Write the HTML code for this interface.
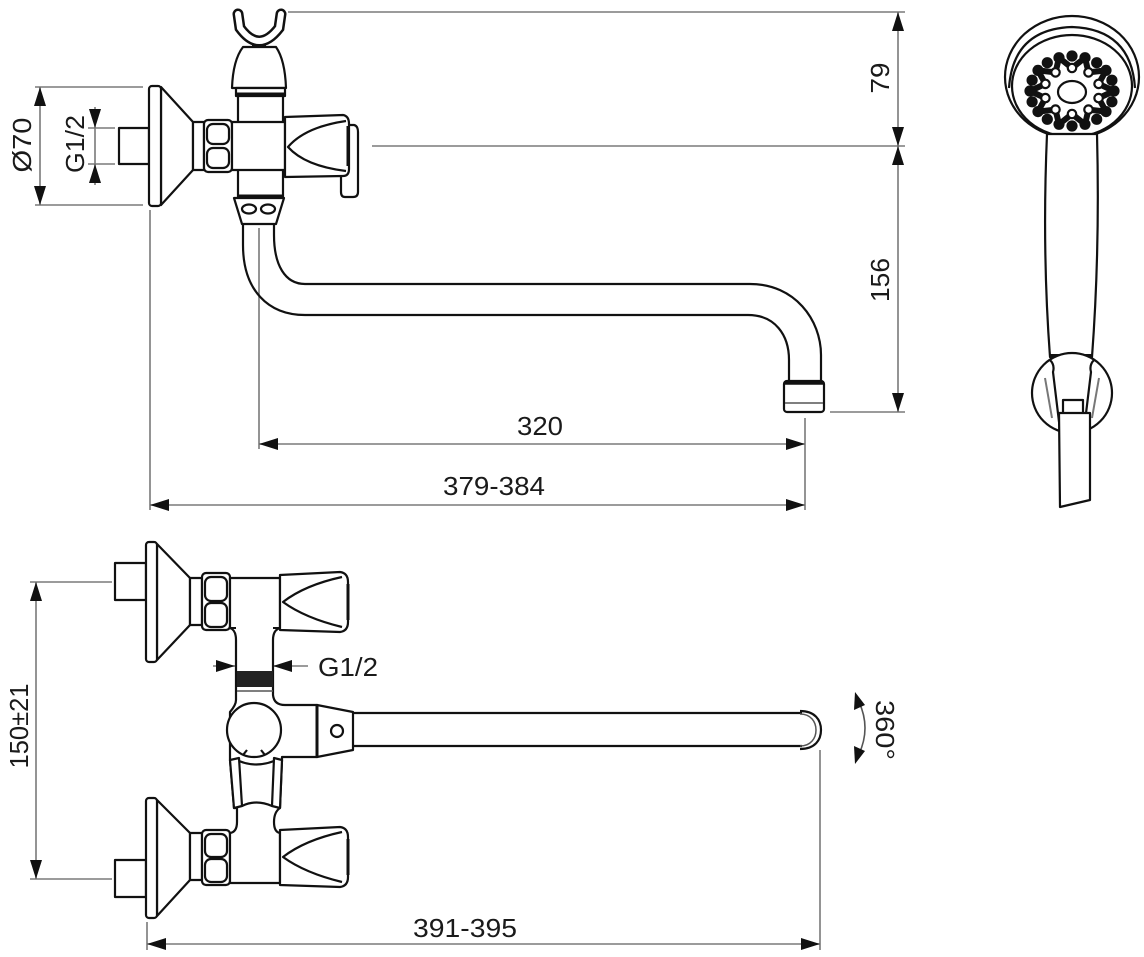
<!DOCTYPE html>
<html><head><meta charset="utf-8"><style>
html,body{margin:0;padding:0;background:#fff;}
svg{display:block;}
.d{stroke:#7a7a7a;stroke-width:1.6;fill:none;}
.o{stroke:#111;stroke-width:2.2;fill:#fff;stroke-linejoin:round;}
.n{stroke:#111;stroke-width:2.2;fill:none;stroke-linejoin:round;}
.a{fill:#111;stroke:none;}
.t{font-family:"Liberation Sans",Arial,sans-serif;font-size:26px;fill:#1a1a1a;}
</style></head><body>
<svg width="1144" height="957" viewBox="0 0 1144 957" xmlns="http://www.w3.org/2000/svg">

<!-- ================= TOP VIEW DIMENSIONS ================= -->
<line class="d" x1="288" y1="12" x2="905" y2="12"/>
<line class="d" x1="372" y1="146" x2="905" y2="146"/>
<line class="d" x1="830" y1="412" x2="905" y2="412"/>
<line class="d" x1="898" y1="12" x2="898" y2="412"/>
<polygon class="a" points="898,12 892,31 904,31"/>
<polygon class="a" points="898,146 892,127 904,127"/>
<polygon class="a" points="898,146 892,165 904,165"/>
<polygon class="a" points="898,412 892,393 904,393"/>
<text class="t" transform="translate(889,78) rotate(-90)" text-anchor="middle" textLength="31" lengthAdjust="spacingAndGlyphs">79</text>
<text class="t" transform="translate(889,280) rotate(-90)" text-anchor="middle" textLength="44" lengthAdjust="spacingAndGlyphs">156</text>

<!-- Ø70 -->
<line class="d" x1="35" y1="87" x2="143" y2="87"/>
<line class="d" x1="35" y1="205" x2="143" y2="205"/>
<line class="d" x1="40" y1="87" x2="40" y2="205"/>
<polygon class="a" points="40,87 34,106 46,106"/>
<polygon class="a" points="40,205 34,186 46,186"/>
<text class="t" transform="translate(31,145) rotate(-90)" text-anchor="middle" textLength="55" lengthAdjust="spacingAndGlyphs">Ø70</text>
<!-- G1/2 top -->
<line class="d" x1="88" y1="128" x2="115" y2="128"/>
<line class="d" x1="88" y1="164" x2="115" y2="164"/>
<line class="d" x1="95" y1="107" x2="95" y2="185"/>
<polygon class="a" points="95,128 89,109 101,109"/>
<polygon class="a" points="95,164 89,183 101,183"/>
<text class="t" transform="translate(84,144) rotate(-90)" text-anchor="middle" textLength="58" lengthAdjust="spacingAndGlyphs">G1/2</text>

<!-- horizontal dims -->
<line class="d" x1="150" y1="210" x2="150" y2="510"/>
<line class="d" x1="259" y1="228" x2="259" y2="449"/>
<line class="d" x1="805" y1="418" x2="805" y2="510"/>
<line class="d" x1="259" y1="444" x2="805" y2="444"/>
<polygon class="a" points="259,444 278,438 278,450"/>
<polygon class="a" points="805,444 786,438 786,450"/>
<text class="t" x="540" y="435" text-anchor="middle" textLength="46" lengthAdjust="spacingAndGlyphs">320</text>
<line class="d" x1="150" y1="505" x2="805" y2="505"/>
<polygon class="a" points="150,505 169,499 169,511"/>
<polygon class="a" points="805,505 786,499 786,511"/>
<text class="t" x="494" y="495" text-anchor="middle" textLength="102" lengthAdjust="spacingAndGlyphs">379-384</text>

<!-- ================= TOP VIEW FAUCET ================= -->
<rect class="o" x="119" y="128" width="30" height="36"/>
<path class="o" d="M161,87 L193,122 L193,170 L161,205 Z"/>
<rect class="o" x="149" y="86" width="12" height="120" rx="3"/>
<rect class="o" x="193" y="122" width="11" height="48"/>
<rect class="o" x="204" y="120" width="28" height="52" rx="4"/>
<rect class="n" x="207" y="124" width="22" height="20" rx="6"/>
<rect class="n" x="207" y="148" width="22" height="20" rx="6"/>
<rect class="o" x="238" y="94" width="45" height="104"/>
<path class="o" d="M243,47 Q233,60 232,88 L286,88 Q285,60 276,47 Z"/>
<rect class="o" x="236" y="88" width="49" height="8"/>
<line x1="237" y1="94" x2="284" y2="94" stroke="#111" stroke-width="3"/>
<path d="M238,14 L240,28 Q259,54 279,28 L281,14" stroke="#111" stroke-width="11" fill="none" stroke-linecap="round"/>
<path d="M238,14 L240,28 Q259,54 279,28 L281,14" stroke="#fff" stroke-width="6" fill="none" stroke-linecap="round"/>
<line x1="252" y1="45" x2="266" y2="45" stroke="#111" stroke-width="2"/>
<rect class="o" x="232" y="122" width="53" height="48"/>
<path class="o" d="M340,125 L354,125 Q358,126 358,132 L358,192 Q358,197 353,197 L345,197 Q341,197 341,192 L341,176 Z"/>
<path class="o" d="M285,117 L343,115 Q349,116 349,124 L349,169 Q349,176 343,176 L285,177 Z"/>
<path class="n" d="M346,121 Q305,127 288,147 Q305,166 346,171"/>
<line x1="348" y1="126" x2="348" y2="166" stroke="#111" stroke-width="3"/>
<line x1="237" y1="196" x2="284" y2="196" stroke="#111" stroke-width="3"/>
<path class="o" d="M234,198 L284,198 L276,224 L242,224 Z"/>
<ellipse class="n" cx="249" cy="209" rx="7" ry="4.5"/>
<ellipse class="n" cx="268" cy="209" rx="7" ry="4.5"/>
<path class="n" d="M243,224 L243,245 C243,290 268,315 305,315 L748,315 C775,315 789,335 789,360 L789,381"/>
<path class="n" d="M274,224 L274,235 C274,265 285,284 305,284 L750,284 C795,284 821,320 821,355 L821,381"/>
<rect class="o" x="784" y="381" width="40" height="31" rx="3"/>
<line x1="784" y1="383" x2="824" y2="383" stroke="#111" stroke-width="3.5"/>
<line x1="785" y1="403" x2="823" y2="403" stroke="#555" stroke-width="1.5"/>

<!-- ================= SHOWER ================= -->
<ellipse class="o" cx="1072" cy="77" rx="67" ry="61"/>
<path class="n" d="M1009,88 Q1013,29 1072,27 Q1131,29 1135,88"/>
<ellipse class="o" cx="1072" cy="86" rx="60" ry="51"/>
<path class="o" d="M1047,134 Q1042,250 1050,357 L1092,357 Q1100,250 1097,134 Z"/>
<rect x="1050" y="354" width="42" height="6" fill="#111"/>
<circle class="o" cx="1072" cy="393" r="40"/>
<path class="n" d="M1050,360 Q1055,365 1053,372 L1060,430"/>
<path class="n" d="M1094,360 Q1089,365 1091,372 L1084,430"/>
<line x1="1045" y1="378" x2="1052" y2="418" stroke="#777" stroke-width="2"/>
<line x1="1099" y1="378" x2="1092" y2="418" stroke="#777" stroke-width="2"/>
<rect class="o" x="1063" y="400" width="20" height="14"/>
<path class="o" d="M1059,413 L1090,413 L1090,500 L1060,507 Z"/>
<!-- nozzle pattern -->
<g stroke="#111" stroke-width="6" stroke-linecap="round">
<line x1="1098.6" y1="98.1" x2="1114" y2="91"/><line x1="1098.6" y1="98.1" x2="1106" y2="111.6"/>
<line x1="1088.5" y1="109.6" x2="1106" y2="111.6"/><line x1="1088.5" y1="109.6" x2="1085" y2="124.3"/>
<line x1="1072" y1="114" x2="1085" y2="124.3"/><line x1="1072" y1="114" x2="1059" y2="124.3"/>
<line x1="1055.5" y1="109.6" x2="1059" y2="124.3"/><line x1="1055.5" y1="109.6" x2="1038" y2="111.6"/>
<line x1="1045.4" y1="98.1" x2="1038" y2="111.6"/><line x1="1045.4" y1="98.1" x2="1030" y2="91"/>
<line x1="1045.4" y1="83.9" x2="1030" y2="91"/><line x1="1045.4" y1="83.9" x2="1038" y2="70.4"/>
<line x1="1055.5" y1="72.4" x2="1038" y2="70.4"/><line x1="1055.5" y1="72.4" x2="1059" y2="57.7"/>
<line x1="1072" y1="68" x2="1059" y2="57.7"/><line x1="1072" y1="68" x2="1085" y2="57.7"/>
<line x1="1088.5" y1="72.4" x2="1085" y2="57.7"/><line x1="1088.5" y1="72.4" x2="1106" y2="70.4"/>
<line x1="1098.6" y1="83.9" x2="1106" y2="70.4"/><line x1="1098.6" y1="83.9" x2="1114" y2="91"/>
</g>
<g fill="#111">
<circle cx="1114" cy="91" r="5.6"/><circle cx="1111.9" cy="101.8" r="5.6"/><circle cx="1106" cy="111.6" r="5.6"/>
<circle cx="1096.7" cy="119.3" r="5.6"/><circle cx="1085" cy="124.3" r="5.6"/><circle cx="1072" cy="126" r="5.6"/>
<circle cx="1059" cy="124.3" r="5.6"/><circle cx="1047.3" cy="119.3" r="5.6"/><circle cx="1038" cy="111.6" r="5.6"/>
<circle cx="1032.1" cy="101.8" r="5.6"/><circle cx="1030" cy="91" r="5.6"/><circle cx="1032.1" cy="80.2" r="5.6"/>
<circle cx="1038" cy="70.4" r="5.6"/><circle cx="1047.3" cy="62.7" r="5.6"/><circle cx="1059" cy="57.7" r="5.6"/>
<circle cx="1072" cy="56" r="5.6"/><circle cx="1085" cy="57.7" r="5.6"/><circle cx="1096.7" cy="62.7" r="5.6"/>
<circle cx="1106" cy="70.4" r="5.6"/><circle cx="1111.9" cy="80.2" r="5.6"/>
</g>
<g fill="#fff" stroke="#111" stroke-width="2.2">
<circle cx="1098.6" cy="98.1" r="4.2"/><circle cx="1088.5" cy="109.6" r="4.2"/><circle cx="1072" cy="114" r="4.2"/>
<circle cx="1055.5" cy="109.6" r="4.2"/><circle cx="1045.4" cy="98.1" r="4.2"/><circle cx="1045.4" cy="83.9" r="4.2"/>
<circle cx="1055.5" cy="72.4" r="4.2"/><circle cx="1072" cy="68" r="4.2"/><circle cx="1088.5" cy="72.4" r="4.2"/>
<circle cx="1098.6" cy="83.9" r="4.2"/>
</g>
<ellipse class="o" cx="1072" cy="92" rx="14" ry="11"/>

<!-- ================= BOTTOM VIEW DIMENSIONS ================= -->
<line class="d" x1="30" y1="582" x2="112" y2="582"/>
<line class="d" x1="30" y1="879" x2="112" y2="879"/>
<line class="d" x1="36" y1="582" x2="36" y2="879"/>
<polygon class="a" points="36,582 30,601 42,601"/>
<polygon class="a" points="36,879 30,860 42,860"/>
<text class="t" transform="translate(28,726) rotate(-90)" text-anchor="middle" textLength="85" lengthAdjust="spacingAndGlyphs">150±21</text>
<line class="d" x1="213" y1="666" x2="308" y2="666"/>
<polygon class="a" points="235,666 216,660 216,672"/>
<polygon class="a" points="273,666 292,660 292,672"/>
<text class="t" x="318" y="676" textLength="60" lengthAdjust="spacingAndGlyphs">G1/2</text>
<line class="d" x1="147" y1="922" x2="147" y2="950"/>
<line class="d" x1="820" y1="750" x2="820" y2="950"/>
<line class="d" x1="147" y1="944" x2="820" y2="944"/>
<polygon class="a" points="147,944 166,938 166,950"/>
<polygon class="a" points="820,944 801,938 801,950"/>
<text class="t" x="465" y="937" text-anchor="middle" textLength="104" lengthAdjust="spacingAndGlyphs">391-395</text>
<path d="M859,702 Q871,728 859,754" stroke="#555" stroke-width="1.6" fill="none"/>
<polygon class="a" points="855,692 854,710 865,705"/>
<polygon class="a" points="855,764 854,746 865,751"/>
<text class="t" transform="translate(876,730) rotate(90)" text-anchor="middle" textLength="60" lengthAdjust="spacingAndGlyphs">360°</text>

<!-- ================= BOTTOM VIEW FAUCET ================= -->
<rect class="o" x="115" y="563" width="31" height="37"/>
<path class="o" d="M157,544 L190,578 L190,625 L157,660 Z"/>
<rect class="o" x="146" y="542" width="11" height="120" rx="3"/>
<rect class="o" x="190" y="578" width="12" height="47"/>
<rect class="o" x="202" y="573" width="28" height="57" rx="4"/>
<rect class="n" x="205" y="577" width="22" height="24" rx="6"/>
<rect class="n" x="205" y="603" width="22" height="24" rx="6"/>
<rect class="o" x="115" y="860" width="31" height="37"/>
<path class="o" d="M157,800 L190,833 L190,880 L157,916 Z"/>
<rect class="o" x="146" y="798" width="11" height="120" rx="3"/>
<rect class="o" x="190" y="833" width="12" height="47"/>
<rect class="o" x="202" y="830" width="28" height="55" rx="4"/>
<rect class="n" x="205" y="834" width="22" height="23" rx="6"/>
<rect class="n" x="205" y="859" width="22" height="23" rx="6"/>
<path class="o" d="M230,578 L280,578 L280,628 Q273,630 273,640 L273,695 Q274,705 285,705 L317,705 L317,757 L282,757 L282,760 L280,808 Q274,812 274,822 Q274,832 280,833 L280,883 L230,883 L230,833 Q237,832 237,822 L237,808 L234,808 L230,760 L230,712 Q236,705 236,700 L236,640 Q236,630 230,628 Z"/>
<line x1="230" y1="628" x2="236" y2="628" stroke="#111" stroke-width="2"/>
<line x1="273" y1="628" x2="280" y2="628" stroke="#111" stroke-width="2"/>
<rect x="237" y="671" width="36" height="16" fill="#222"/>
<line x1="237" y1="691" x2="273" y2="691" stroke="#555" stroke-width="1.5"/>
<circle class="o" cx="254" cy="730" r="27"/>
<path class="n" d="M243,755 L247,750 M265,755 L261,750"/>
<path class="o" d="M230,760 L239,758 L242,806 L234,808 Z"/>
<path class="o" d="M274,758 L282,760 L280,808 L272,806 Z"/>
<path class="n" d="M239,761 Q256,768 274,761"/>
<path class="n" d="M242,806 Q256,799 272,806"/>
<path class="o" d="M317,705 L353,712 L353,750 L317,757 Z"/>
<line x1="317" y1="705" x2="317" y2="757" stroke="#111" stroke-width="3"/>
<circle class="o" cx="337" cy="731" r="6"/>
<line x1="353" y1="713" x2="802" y2="713" stroke="#111" stroke-width="2.2"/>
<line x1="353" y1="746" x2="802" y2="746" stroke="#111" stroke-width="2.2"/>
<path class="n" d="M800,711 C815,711 821,720 821,730 C821,740 815,749 800,749"/>
<path d="M800,714 C811,714 816,722 816,730 C816,738 811,746 800,746" stroke="#555" stroke-width="1.5" fill="none"/>
<path class="o" d="M280,575 L340,572 Q348,573 348,582 L348,622 Q348,631 340,632 L280,630 Z"/>
<path class="n" d="M342,577 Q305,585 283,602 Q305,618 342,627"/>
<line x1="348" y1="584" x2="348" y2="620" stroke="#111" stroke-width="3"/>
<path class="o" d="M280,830 L340,827 Q348,828 348,837 L348,877 Q348,886 340,887 L280,885 Z"/>
<path class="n" d="M342,832 Q305,840 283,857 Q305,873 342,882"/>
<line x1="348" y1="839" x2="348" y2="875" stroke="#111" stroke-width="3"/>
</svg>
</body></html>
